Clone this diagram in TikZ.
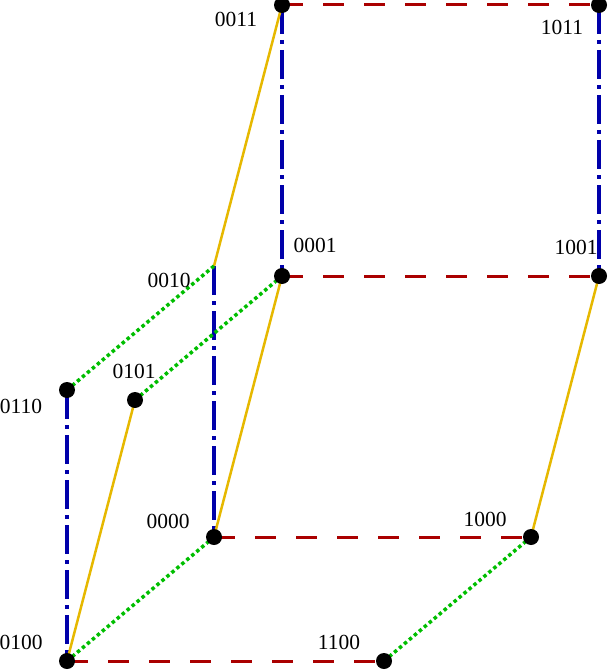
\documentclass[tikz,border=0pt]{standalone}
\usepackage{fontspec}
\setmainfont{Liberation Serif}
\definecolor{cred}{RGB}{170,0,0}
\definecolor{cblue}{RGB}{0,0,170}
\definecolor{cgold}{RGB}{230,184,0}
\definecolor{cgreen}{RGB}{0,190,0}
\begin{document}
\begin{tikzpicture}[x=1pt,y=-1pt,
  vtx/.style={circle,fill=black,inner sep=0pt,minimum size=16pt},
  lbl/.style={font=\fontsize{21.5}{24}\selectfont,inner sep=0pt},
  eone/.style={cred,line width=3pt,dash pattern=on 21pt off 20pt},
  ethree/.style={cblue,line width=3.5pt,dash pattern=on 29pt off 6pt on 4pt off 6pt},
  efour/.style={cgold,line width=2.5pt},
  etwo/.style={cgreen,line width=3.5pt,dash pattern=on 3.5pt off 3pt}]
\useasboundingbox (0,0) rectangle (607,671);
\clip (0,0) rectangle (607,671);
% positions
\coordinate (p0000) at (214,537);
\coordinate (p1000) at (531,537);
\coordinate (p0100) at (67,661);
\coordinate (p1100) at (384,661);
\coordinate (p0010) at (214,266);
\coordinate (p0110) at (67,390);
\coordinate (p0101) at (135,400);
\coordinate (p0001) at (282,276);
\coordinate (p1001) at (599,276);
\coordinate (p0011) at (282,5);
\coordinate (p1011) at (599,5);
% red (dimension 1)
\draw[eone] (p0011) -- (p1011);
\draw[eone] (p0001) -- (p1001);
\draw[eone] (p0000) -- (p1000);
\draw[eone] (p0100) -- (p1100);
% blue (dimension 3)
\draw[ethree] (p0011) -- (p0001);
\draw[ethree] (p1011) -- (p1001);
\draw[ethree] (p0010) -- (p0000);
\draw[ethree] (p0110) -- (p0100);
% gold (dimension 4)
\draw[efour] (p0011) -- (p0010);
\draw[efour] (p0001) -- (p0000);
\draw[efour] (p1001) -- (p1000);
\draw[efour] (p0101) -- (p0100);
% green (dimension 2)
\draw[etwo] (p0010) -- (p0110);
\draw[etwo] (p0001) -- (p0101);
\draw[etwo] (p0000) -- (p0100);
\draw[etwo] (p1000) -- (p1100);
% dots
\foreach \n in {0000,1000,0100,1100,0110,0101,0001,1001,0011,1011}
  \node[vtx] (d\n) at (p\n) {};
% labels
\node[lbl] (l0000) at (168,521) {0000};
\node[lbl] (l1000) at (485,519) {1000};
\node[lbl] (l0100) at (21,642) {0100};
\node[lbl] (l1100) at (339,642) {1100};
\node[lbl] (l0010) at (169,280) {0010};
\node[lbl] (l0110) at (21,406) {0110};
\node[lbl] (l0101) at (134,371) {0101};
\node[lbl] (l0001) at (315,245) {0001};
\node[lbl] (l1001) at (576,247) {1001};
\node[lbl] (l0011) at (236,19) {0011};
\node[lbl] (l1011) at (562,27) {1011};
\end{tikzpicture}
\end{document}
